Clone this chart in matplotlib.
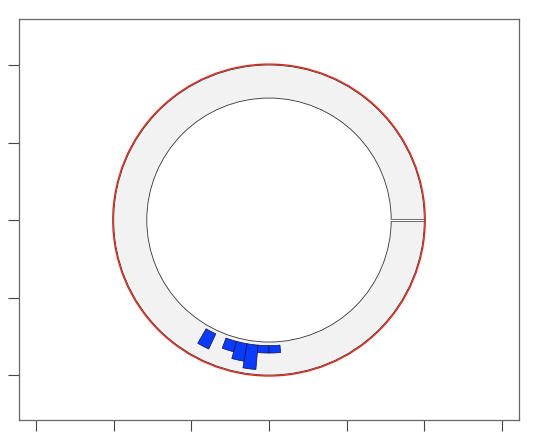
import numpy as np
from matplotlib import pyplot as plt
from matplotlib.patches import Polygon, Circle

# rose bars: bin centre (degrees) and bar length (radius units)
bin_deg = [242.5, 252.5, 257.5, 262.5, 267.5, 272.5]
bar_len = [0.108, 0.07, 0.115, 0.158, 0.048, 0.048]
bin_width = 5.0

ring_in = 0.787
ring_out = 1.0
bar_start = 0.81

x_ticks = [-1.5, -1.0, -0.5, 0.0, 0.5, 1.0, 1.5]
y_ticks = [-1.0, -0.5, 0.0, 0.5, 1.0]


def ring(ax):
	t = np.radians(np.linspace(0, 360, 400))
	xo, yo = ring_out * np.cos(t), ring_out * np.sin(t)
	xi, yi = ring_in * np.cos(t[::-1]), ring_in * np.sin(t[::-1])
	pts = np.column_stack([np.concatenate([xo, xi]), np.concatenate([yo, yi])])
	ax.add_patch(Polygon(pts, closed=True, facecolor='#f2f2f2', edgecolor='none'))
	ax.add_patch(Circle((0, 0), ring_out, fill=False, edgecolor='#333333', lw=0.6))
	ax.add_patch(Circle((0, 0), ring_in, fill=False, edgecolor='#333333', lw=0.6))
	# seam where the ring starts and ends
	ax.fill_between([ring_in, ring_out], -0.004, 0.004, color='white', lw=0)
	for dy in (-0.005, 0.005):
		ax.plot([ring_in, ring_out], [dy, dy], color='#555555', lw=0.6)
	ax.add_patch(Circle((0, 0), 1.006, fill=False, edgecolor='#e3261c', lw=1.0))


def bars(ax):
	for d, l in zip(bin_deg, bar_len):
		t = np.radians(np.linspace(d - bin_width / 2, d + bin_width / 2, 10))
		r0, r1 = bar_start, bar_start + l
		xs = np.concatenate([r0 * np.cos(t), r1 * np.cos(t[::-1])])
		ys = np.concatenate([r0 * np.sin(t), r1 * np.sin(t[::-1])])
		ax.add_patch(Polygon(np.column_stack([xs, ys]), closed=True,
			facecolor='#0a3cff', edgecolor='#101040', lw=0.5))


fig = plt.figure(figsize=(5.38, 4.41), dpi=100)
ax = fig.add_axes([0.0353, 0.0476, 0.9288, 0.9093])
ring(ax)
bars(ax)

ax.set_xlim(-1.61, 1.608)
ax.set_ylim(-1.29, 1.297)
ax.set_xticks(x_ticks)
ax.set_yticks(y_ticks)
ax.set_xticklabels([])
ax.set_yticklabels([])
ax.tick_params(direction='out', length=8, width=0.8, color='#444444')
for s in ax.spines.values():
	s.set_color('#666666')
	s.set_linewidth(0.9)

fig.savefig('out.png', dpi=100)
